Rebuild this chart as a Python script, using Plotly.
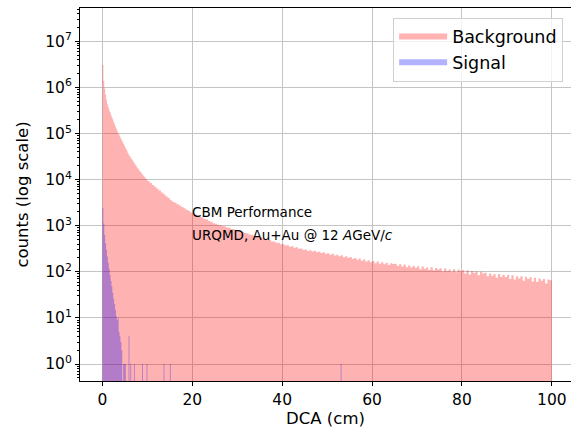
import numpy as np
import plotly.graph_objects as go

# ---------------- data ----------------
# Background: fine bins (width 0.2) from 0 to 10 cm
bg_fine_width = 0.2
bg_fine_counts = [
    3090000, 1410000, 955000, 708000, 550000, 447000, 380000, 331000, 295000, 257000,
    229000, 204000, 182000, 162000, 145000, 129000, 115000, 105000, 95500, 87100,
    79400, 72400, 66100, 60300, 55000, 50100, 45700, 41700, 38000, 34700,
    32400, 30200, 28200, 26300, 24500, 22900, 21400, 20000, 18600, 17800,
    16600, 15500, 14800, 13800, 13200, 12300, 11700, 11200, 10500, 10000,
]
# Background: coarse bins (width 0.5) from 10 to 100 cm
bg_coarse_width = 0.5
bg_coarse_counts = [
    9330, 8510, 7700, 7060, 6380, 5850, 5270, 4840, 4370, 4010,
    3600, 3340, 3160, 2920, 2770, 2550, 2410, 2230, 2110, 1950,
    1870, 1745, 1680, 1570, 1510, 1405, 1360, 1265, 1220, 1140,
    1110, 1055, 1040, 985, 970, 915, 905, 855, 845, 800,
    790, 745, 735, 695, 688, 645, 640, 602, 598, 565,
    560, 526, 522, 490, 488, 455, 456, 428, 424, 398,
    400, 372, 380, 352, 360, 335, 341, 316, 322, 300,
    306, 285, 296, 276, 287, 265, 275, 256, 266, 248,
    254, 236, 246, 226, 236, 218, 228, 208, 218, 202,
    210, 190, 200, 182, 194, 174, 186, 168, 178, 162,
    172, 154, 168, 150, 162, 146, 158, 140, 154, 148,
    150, 134, 146, 130, 144, 126, 138, 124, 136, 122,
    132, 114, 130, 116, 124, 110, 126, 108, 121, 112,
    120, 102, 118, 104, 113, 100, 114, 98, 112, 104,
    110, 92, 108, 88, 104, 94, 102, 84, 100, 92,
    96, 80, 92, 82, 90, 74, 90, 78, 86, 77,
    86, 70, 84, 68, 80, 72, 80, 64, 78, 70,
    76, 62, 74, 60, 72, 64, 70, 56, 68, 66,
]
bg_fine_start = 0.0
bg_coarse_start = 10.0

# Signal: non-empty bins (bin width 0.2), given by bin centre and count
sig_width = 0.2
sig_centers = [0.1, 0.3, 0.5, 0.7, 0.9, 1.1, 1.3, 1.5, 1.7, 1.9,
               2.1, 2.3, 2.5, 2.7, 2.9, 3.1, 3.3, 3.5, 3.7, 3.9,
               4.1, 4.3, 4.7, 4.9, 5.1, 5.9, 6.3, 7.1, 8.9, 9.9,
               13.7, 15.1, 53.1]
sig_counts = [2450, 1120, 630, 417, 300, 214, 158, 117, 85, 63,
              48, 35, 26, 20, 15, 11, 9, 10, 5, 4,
              3, 2, 1, 1, 1, 4, 1, 1, 1, 1,
              1, 1, 1]

x_ticks = [0, 20, 40, 60, 80, 100]
y_tick_vals = [1, 10, 100, 1000, 10000, 100000, 1000000, 10000000]
y_tick_text = ["10<sup>%d</sup>" % k for k in range(8)]

# ---------------- helpers ----------------
FLOOR = 1e-2  # below the visible axis range; histogram bars start here


def step_polygon(lefts, widths, counts):
    """Closed outline of a histogram, one rectangle per bin."""
    xs, ys = [], []
    prev_right = None
    for l, w, c in zip(lefts, widths, counts):
        r = l + w
        if prev_right is None or abs(l - prev_right) > 1e-9:
            if prev_right is not None:
                xs.append(prev_right); ys.append(FLOOR)
            xs.append(l); ys.append(FLOOR)
        else:
            l = prev_right
        xs += [l, r]
        ys += [c, c]
        prev_right = r
    xs.append(prev_right); ys.append(FLOOR)
    return xs, ys


bg_lefts = list(bg_fine_start + bg_fine_width * np.arange(len(bg_fine_counts))) + \
           list(bg_coarse_start + bg_coarse_width * np.arange(len(bg_coarse_counts)))
bg_widths = [bg_fine_width] * len(bg_fine_counts) + [bg_coarse_width] * len(bg_coarse_counts)
bg_x, bg_y = step_polygon(bg_lefts, bg_widths, bg_fine_counts + bg_coarse_counts)

sig_lefts = [c - sig_width / 2 for c in sig_centers]
sig_x, sig_y = step_polygon(sig_lefts, [sig_width] * len(sig_centers), sig_counts)

# ---------------- figure ----------------
fig = go.Figure()
fig.add_trace(go.Scatter(
    x=bg_x, y=bg_y, name="Background", mode="none",
    fill="toself", fillcolor="rgba(255,0,0,0.3)",
))
fig.add_trace(go.Scatter(
    x=sig_x, y=sig_y, name="Signal", mode="none",
    fill="toself", fillcolor="rgba(0,0,255,0.3)",
))

font_family = "DejaVu Sans"
minor_vals = [m * 10 ** k for k in range(-1, 8) for m in range(2, 10)]

fig.update_layout(
    width=571, height=428,
    margin=dict(l=80, r=0, t=8, b=47),
    paper_bgcolor="white", plot_bgcolor="white",
    font=dict(family=font_family, color="black"),
    showlegend=True,
    legend=dict(
        x=0.984, y=0.974, xanchor="right", yanchor="top",
        bgcolor="rgba(255,255,255,0.8)", bordercolor="#d0d0d0", borderwidth=1,
        font=dict(size=17.5, family=font_family),
        itemwidth=48, tracegroupgap=2,
    ),
    xaxis=dict(
        range=[-5, 104.26],
        tickvals=x_ticks, ticktext=[str(v) for v in x_ticks],
        ticks="outside", ticklen=4, tickwidth=1, tickcolor="black",
        tickfont=dict(size=15.5),
        showgrid=True, gridcolor="#c4c4c4", gridwidth=0.8,
        showline=True, linecolor="black", linewidth=1, mirror=True,
        zeroline=False,
        title=dict(text="DCA (cm)", font=dict(size=16.5), standoff=4),
    ),
    yaxis=dict(
        type="log", range=[-0.369, 7.726],
        tickvals=y_tick_vals, ticktext=y_tick_text,
        ticks="outside", ticklen=4, tickwidth=1, tickcolor="black",
        tickfont=dict(size=15.5),
        showgrid=True, gridcolor="#c4c4c4", gridwidth=0.8,
        showline=True, linecolor="black", linewidth=1, mirror=False,
        zeroline=False,
        minor=dict(tickvals=minor_vals, ticks="outside", ticklen=2,
                   tickcolor="black", showgrid=False),
        title=dict(text="counts (log scale)", font=dict(size=16.5), standoff=12),
    ),
)

fig.add_annotation(x=19.4, y=3.29, xref="x", yref="y", text="CBM Performance",
                   showarrow=False, xanchor="left", yanchor="middle",
                   font=dict(size=13.5, family=font_family, color="black"))
fig.add_annotation(x=19.4, y=2.80, xref="x", yref="y",
                   text="URQMD, Au+Au @ 12 <i>A</i>GeV/<i>c</i>",
                   showarrow=False, xanchor="left", yanchor="middle",
                   font=dict(size=13.5, family=font_family, color="black"))

fig.write_html("out.html")
